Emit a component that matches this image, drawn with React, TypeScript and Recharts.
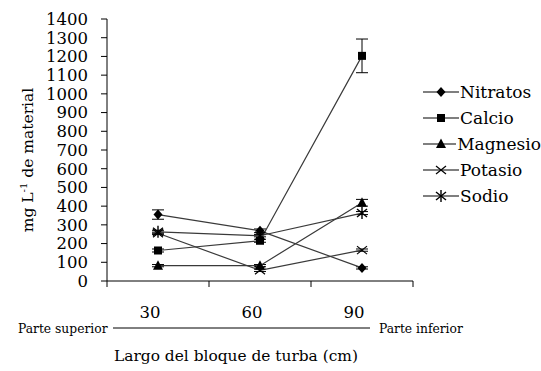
import React from "react";
import { LineChart, Line, XAxis, YAxis, ErrorBar, Legend } from "recharts";

const depths = [30, 60, 90];
const nitratos = [355, 268, 70];
const nitratosErr = [25, 10, 6];
const calcio = [163, 215, 1203];
const calcioErr = [8, 8, 90];
const magnesio = [82, 82, 418];
const magnesioErr = [6, 6, 18];
const potasio = [255, 57, 165];
const potasioErr = [6, 6, 6];
const sodio = [263, 242, 363];
const sodioErr = [8, 6, 8];

const yTicks = [0, 100, 200, 300, 400, 500, 600, 700, 800, 900, 1000, 1100, 1200, 1300, 1400];
const boundaryTicks = [15, 45, 75, 105];
const xTicks = [15, 30, 45, 60, 75, 90, 105];

const FONT = "DejaVu Serif";
const LINE_COLOR = "#3a3a3a";

const data = depths.map((d, i) => ({
  depth: d,
  nitratos: nitratos[i],
  nitratosErr: nitratosErr[i],
  calcio: calcio[i],
  calcioErr: calcioErr[i],
  magnesio: magnesio[i],
  magnesioErr: magnesioErr[i],
  potasio: potasio[i],
  potasioErr: potasioErr[i],
  sodio: sodio[i],
  sodioErr: sodioErr[i],
}));

const Marker = ({ cx, cy, shape }: { cx: number; cy: number; shape: string }) => {
  if (cx == null || cy == null) return null;
  switch (shape) {
    case "diamond":
      return <polygon points={`${cx},${cy - 5} ${cx + 4.5},${cy} ${cx},${cy + 5} ${cx - 4.5},${cy}`} fill="#000" />;
    case "square":
      return <rect x={cx - 4} y={cy - 4} width={8} height={8} fill="#000" />;
    case "triangle":
      return <polygon points={`${cx},${cy - 5.5} ${cx + 5},${cy + 4} ${cx - 5},${cy + 4}`} fill="#000" />;
    case "x":
      return (
        <g stroke="#000" strokeWidth={1.2}>
          <line x1={cx - 5} y1={cy - 4} x2={cx + 5} y2={cy + 4} />
          <line x1={cx - 5} y1={cy + 4} x2={cx + 5} y2={cy - 4} />
        </g>
      );
    case "asterisk":
      return (
        <g stroke="#000" strokeWidth={1.4}>
          <line x1={cx - 5} y1={cy - 4} x2={cx + 5} y2={cy + 4} />
          <line x1={cx - 5} y1={cy + 4} x2={cx + 5} y2={cy - 4} />
          <line x1={cx} y1={cy - 6} x2={cx} y2={cy + 6} />
        </g>
      );
    default:
      return null;
  }
};

const series = [
  { key: "nitratos", name: "Nitratos", shape: "diamond" },
  { key: "calcio", name: "Calcio", shape: "square" },
  { key: "magnesio", name: "Magnesio", shape: "triangle" },
  { key: "potasio", name: "Potasio", shape: "x" },
  { key: "sodio", name: "Sodio", shape: "asterisk" },
];

const XTick = (props: any) => {
  const { x, y, payload } = props;
  const v = payload.value;
  if (boundaryTicks.includes(v)) {
    return <line x1={x} x2={x} y1={y} y2={y + 6} stroke="#000" strokeWidth={1} />;
  }
  return (
    <text x={x - 8} y={y + 37} textAnchor="middle" fontFamily={FONT} fontSize={16.5} fill="#000">
      {v}
    </text>
  );
};

const XLabel = (props: any) => {
  return (
    <g fontFamily={FONT} fill="#000">
      <text x={18} y={333} fontSize={12.3} textAnchor="start">Parte superior</text>
      <line x1={113} x2={370} y1={328} y2={328} stroke="#000" strokeWidth={1} />
      <text x={379} y={333} fontSize={12.3} textAnchor="start">Parte inferior</text>
      <text x={236} y={361} fontSize={15.4} textAnchor="middle">Largo del bloque  de turba (cm)</text>
    </g>
  );
};

const YLabel = () => (
  <text
    x={0}
    y={0}
    transform="translate(33,160) rotate(-90)"
    textAnchor="middle"
    fontFamily={FONT}
    fontSize={15.5}
    fill="#000"
  >
    mg L<tspan dy={-6} fontSize={10}>-1</tspan>
    <tspan dy={6}> de material</tspan>
  </text>
);

const LegendContent = () => (
  <div style={{ fontFamily: FONT, fontSize: 17, color: "#000" }}>
    {series.map((s) => (
      <div key={s.key} style={{ display: "flex", alignItems: "center", height: 26 }}>
        <svg width={36} height={16} style={{ display: "block" }}>
          <line x1={0} x2={36} y1={8} y2={8} stroke="#000" strokeWidth={1.2} />
          <Marker cx={18} cy={8} shape={s.shape} />
        </svg>
        <span style={{ marginLeft: 1 }}>{s.name}</span>
      </div>
    ))}
  </div>
);

export default function App() {
  return (
    <div style={{ position: "absolute", left: 0, top: 0, width: 541, height: 371, background: "#fff" }}>
      <LineChart width={541} height={371} data={data} margin={{ top: 19, right: 128, bottom: 0, left: 0 }}>
        <XAxis
          dataKey="depth"
          type="number"
          domain={[15, 105]}
          ticks={xTicks}
          interval={0}
          tick={<XTick />}
          tickLine={false}
          tickSize={0}
          tickMargin={0}
          height={90}
          axisLine={{ stroke: "#000", strokeWidth: 1 }}
          label={<XLabel />}
        />
        <YAxis
          type="number"
          domain={[0, 1400]}
          ticks={yTicks}
          interval={0}
          width={107}
          tickLine={{ stroke: "#000", strokeWidth: 1 }}
          tickSize={6}
          tickMargin={13}
          axisLine={{ stroke: "#000", strokeWidth: 1 }}
          tick={{ fontFamily: FONT, fontSize: 16.5, fill: "#000" }}
          label={<YLabel />}
        />
        <Legend
          layout="vertical"
          align="center"
          verticalAlign="middle"
          content={<LegendContent />}
          wrapperStyle={{ position: "absolute", left: 423, top: 79, width: 118, height: 140 }}
        />
        {series.map((s) => (
          <Line
            key={s.key}
            dataKey={s.key}
            name={s.name}
            stroke={LINE_COLOR}
            strokeWidth={1.2}
            isAnimationActive={false}
            dot={(p: any) => <Marker key={`${s.key}-${p.index}`} cx={p.cx} cy={p.cy} shape={s.shape} />}
            activeDot={false}
          >
            <ErrorBar dataKey={`${s.key}Err`} direction="y" width={6} stroke="#000" strokeWidth={1} />
          </Line>
        ))}
      </LineChart>
    </div>
  );
}
